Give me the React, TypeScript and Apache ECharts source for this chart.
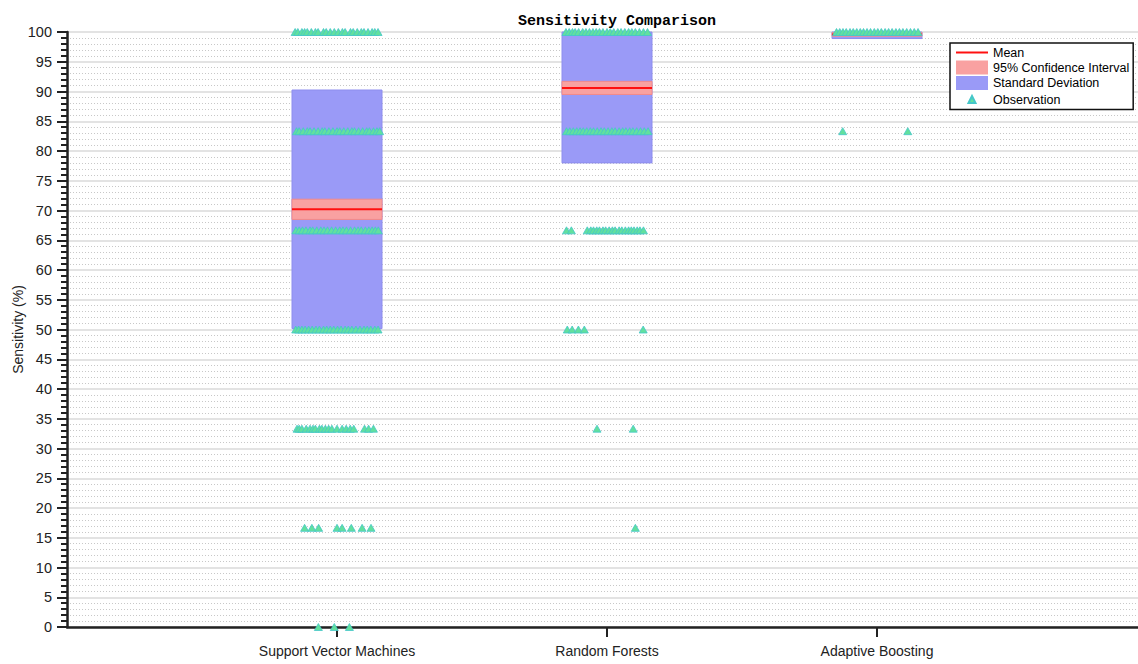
import React, { useEffect, useRef } from "react";
import * as echarts from "echarts";

// Models compared, in axis order (positions 1, 2, 3 on the x axis)
const categories = ["Support Vector Machines", "Random Forests", "Adaptive Boosting"];

// Summary statistics per model (sensitivity, %)
const meanValues = [70.2, 90.6, 99.6];
const sdValues = [20.05, 12.6, 0.7];
const ciLower = [68.5, 89.5, 99.3];
const ciUpper = [71.9, 91.7, 99.9];

// Individual fold observations: [sensitivity, horizontal jitter offsets]
const svmRows: [number, number[]][] = [
  [100, [-0.155, -0.145, -0.13, -0.12, -0.11, -0.095, -0.08, -0.07, -0.05, -0.04, -0.025, -0.01, 0.005, 0.02, 0.03, 0.05, 0.06, 0.075, 0.09, 0.1, 0.115, 0.13, 0.14, 0.152]],
  [83.33, [-0.15, -0.14, -0.125, -0.11, -0.1, -0.085, -0.07, -0.055, -0.045, -0.03, -0.015, 0, 0.01, 0.025, 0.04, 0.055, 0.065, 0.08, 0.095, 0.11, 0.12, 0.135, 0.148, 0.158]],
  [66.67, [-0.152, -0.14, -0.128, -0.115, -0.1, -0.09, -0.075, -0.06, -0.048, -0.035, -0.02, -0.005, 0.01, 0.022, 0.035, 0.05, 0.065, 0.078, 0.09, 0.105, 0.118, 0.13, 0.142, 0.153]],
  [50, [-0.153, -0.142, -0.13, -0.118, -0.105, -0.092, -0.078, -0.065, -0.05, -0.038, -0.025, -0.012, 0.002, 0.015, 0.03, 0.042, 0.055, 0.07, 0.085, 0.1, 0.112, 0.125, 0.14, 0.152]],
  [33.33, [-0.148, -0.14, -0.13, -0.114, -0.1, -0.089, -0.08, -0.065, -0.056, -0.043, -0.031, -0.019, 0, 0.019, 0.034, 0.049, 0.062, 0.102, 0.117, 0.135]],
  [16.67, [-0.12, -0.093, -0.068, 0, 0.019, 0.053, 0.093, 0.126]],
  [0, [-0.069, -0.01, 0.046]],
];

const rfRows: [number, number[]][] = [
  [100, [-0.152, -0.14, -0.128, -0.118, -0.105, -0.09, -0.078, -0.065, -0.052, -0.04, -0.028, -0.015, 0, 0.012, 0.025, 0.04, 0.052, 0.066, 0.08, 0.092, 0.105, 0.12, 0.135, 0.15]],
  [83.33, [-0.15, -0.138, -0.125, -0.112, -0.1, -0.088, -0.075, -0.062, -0.05, -0.036, -0.022, -0.01, 0.004, 0.018, 0.03, 0.045, 0.058, 0.07, 0.084, 0.096, 0.11, 0.124, 0.138, 0.152]],
  [66.67, [-0.15, -0.132, -0.073, -0.06, -0.05, -0.038, -0.028, -0.015, -0.005, 0.008, 0.02, 0.03, 0.045, 0.055, 0.068, 0.08, 0.09, 0.1, 0.112, 0.122, 0.135]],
  [50, [-0.147, -0.129, -0.106, -0.084, 0.134]],
  [33.33, [-0.037, 0.097]],
  [16.67, [0.105]],
];

const adaRows: [number, number[]][] = [
  [100, [-0.15, -0.138, -0.126, -0.114, -0.1, -0.088, -0.075, -0.062, -0.05, -0.037, -0.024, -0.01, 0.003, 0.016, 0.03, 0.043, 0.056, 0.07, 0.083, 0.096, 0.11, 0.124, 0.138, 0.152]],
  [83.33, [-0.127, 0.114]],
];

const observationRows = [svmRows, rfRows, adaRows];

const FONT = "'Liberation Sans', Arial, Helvetica, sans-serif";
const BOX_HALF = 1 / 6;

const sdData = meanValues.map((m, i) => [i + 1, m - sdValues[i], m + sdValues[i]]);
const ciData = meanValues.map((_, i) => [i + 1, ciLower[i], ciUpper[i]]);
const meanData = meanValues.map((m, i) => [i + 1, m]);
const observationData: number[][] = [];
observationRows.forEach((rows, i) => {
  rows.forEach(([value, jitters]) => {
    jitters.forEach((j) => observationData.push([i + 1 + j, value]));
  });
});

function renderBox(fill: string, stroke: string) {
  return (params: any, api: any) => {
    const x = api.value(0);
    const lo = api.value(1);
    const hi = api.value(2);
    const p1 = api.coord([x - BOX_HALF, hi]);
    const p2 = api.coord([x + BOX_HALF, lo]);
    const cs = params.coordSys;
    const shape = echarts.graphic.clipRectByRect(
      { x: p1[0], y: p1[1], width: p2[0] - p1[0], height: p2[1] - p1[1] },
      { x: cs.x, y: cs.y, width: cs.width, height: cs.height }
    );
    if (!shape) return null;
    return { type: "rect", shape, style: { fill, stroke, lineWidth: 1 } };
  };
}

function renderMean(params: any, api: any) {
  const x = api.value(0);
  const m = api.value(1);
  const a = api.coord([x - BOX_HALF, m]);
  const b = api.coord([x + BOX_HALF, m]);
  return {
    type: "line",
    shape: { x1: a[0], y1: a[1], x2: b[0], y2: b[1] },
    style: { stroke: "#ff1010", lineWidth: 2 },
  };
}

export default function App() {
  const ref = useRef<HTMLDivElement>(null);

  useEffect(() => {
    const chart = echarts.init(ref.current!, null, { renderer: "svg" });
    chart.setOption({
      animation: false,
      backgroundColor: "#ffffff",
      title: {
        text: "Sensitivity Comparison",
        left: 612,
        textAlign: "center",
        top: 9,
        textStyle: { fontFamily: "'Liberation Mono', 'Courier New', monospace", fontWeight: "bold", fontSize: 15, color: "#000" },
      },
      legend: {
        orient: "vertical",
        left: 950,
        top: 43,
        padding: [3, 4, 2, 5],
        itemGap: 1.5,
        itemWidth: 32,
        itemHeight: 14,
        backgroundColor: "#ffffff",
        borderColor: "#111",
        borderWidth: 1.5,
        textStyle: { fontFamily: FONT, fontSize: 12.5, color: "#000" },
        data: [
          { name: "Mean", icon: "path://M0,0H32V2H0Z" },
          { name: "95% Confidence Interval", icon: "rect" },
          { name: "Standard Deviation", icon: "rect" },
          { name: "Observation", icon: "path://M0,0L0,0ZM32,14L32,14ZM12.5,10.5L16,3.5L19.5,10.5Z" },
        ],
      },
      grid: { left: 67, top: 32, width: 1080, height: 595, containLabel: false, outerBoundsMode: "none" },
      xAxis: {
        type: "value",
        min: 0,
        max: 4,
        interval: 1,
        splitLine: { show: false },
        axisLine: { show: true, onZero: false, lineStyle: { color: "#222", width: 2.5 } },
        axisTick: { show: true, customValues: [1, 2, 3], length: 10, inside: false, lineStyle: { color: "#222", width: 2 } },
        axisLabel: {
          customValues: [1, 2, 3],
          formatter: (v: number) => categories[Math.round(v) - 1] ?? "",
          fontFamily: FONT,
          fontSize: 14,
          color: "#222",
          margin: 17,
        },
      },
      yAxis: {
        type: "value",
        min: 0,
        max: 100,
        interval: 5,
        name: "Sensitivity (%)",
        nameLocation: "middle",
        nameGap: 42,
        nameMoveOverlap: false,
        nameTextStyle: { fontFamily: FONT, fontSize: 14, color: "#222" },
        axisLine: { show: true, onZero: false, lineStyle: { color: "#222", width: 2.5 } },
        axisTick: { show: true, length: 10, lineStyle: { color: "#222", width: 2 } },
        minorTick: { show: true, splitNumber: 5, length: 6, lineStyle: { color: "#222", width: 2 } },
        axisLabel: { fontFamily: FONT, fontSize: 14.5, color: "#222", margin: 15 },
        splitLine: { show: true, lineStyle: { color: "#dadada", width: 1.5 } },
        minorSplitLine: { show: true, lineStyle: { color: "#c8c8c8", width: 1, type: [1, 2] } },
      },
      series: [
        {
          name: "Standard Deviation",
          type: "custom",
          renderItem: renderBox("#9a9af7", "#8d8dee"),
          itemStyle: { color: "#9a9af7" },
          encode: { x: 0, y: [1, 2] },
          data: sdData,
          z: 2,
        },
        {
          name: "95% Confidence Interval",
          type: "custom",
          renderItem: renderBox("#f9a1a1", "#f28a8a"),
          itemStyle: { color: "#f9a1a1" },
          encode: { x: 0, y: [1, 2] },
          data: ciData,
          z: 3,
        },
        {
          name: "Mean",
          type: "custom",
          renderItem: renderMean,
          itemStyle: { color: "#ff1010" },
          encode: { x: 0, y: 1 },
          data: meanData,
          z: 4,
        },
        {
          name: "Observation",
          type: "scatter",
          symbol: "triangle",
          symbolSize: [8, 7],
          itemStyle: { color: "#62e09e", borderColor: "#45c7c9", borderWidth: 0.8, opacity: 1 },
          data: observationData,
          z: 5,
        },
      ],
    });
    return () => chart.dispose();
  }, []);

  return <div ref={ref} style={{ position: "absolute", left: 0, top: 0, width: 1138, height: 664 }} />;
}
